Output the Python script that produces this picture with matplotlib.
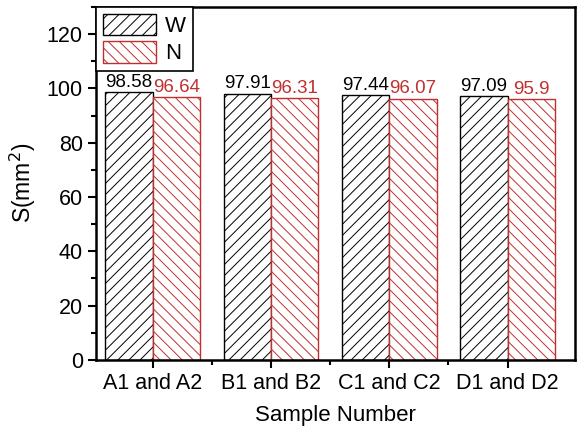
import matplotlib.pyplot as plt
import numpy as np
from matplotlib.ticker import MultipleLocator, FixedLocator

plt.rcParams['font.family'] = ['Liberation Sans', 'DejaVu Sans']
plt.rcParams['hatch.linewidth'] = 0.7

samples = ["A1 and A2", "B1 and B2", "C1 and C2", "D1 and D2"]
w_vals = [98.58, 97.91, 97.44, 97.09]
n_vals = [96.64, 96.31, 96.07, 95.9]
w_labels = ["98.58", "97.91", "97.44", "97.09"]
n_labels = ["96.64", "96.31", "96.07", "95.9"]

red = '#c03030'
fig = plt.figure(figsize=(5.82, 4.33), dpi=100)
ax = fig.add_axes([0.165, 0.169, 0.823, 0.815])

x = np.arange(1, len(samples) + 1)
bw = 0.4
bw_bars = ax.bar(x - bw / 2, w_vals, bw, facecolor='white', edgecolor='black',
                 hatch='///', linewidth=1.0, label='W')
bn_bars = ax.bar(x + bw / 2, n_vals, bw, facecolor='white', edgecolor=red,
                 hatch='\\\\\\', linewidth=1.0, label='N')

# value labels sit just above each bar
for b, t in zip(bw_bars, w_labels):
    ax.text(b.get_x() + b.get_width() / 2, b.get_height() + 0.6, t,
            ha='center', va='bottom', fontsize=13.5, color='black')
for b, t in zip(bn_bars, n_labels):
    ax.text(b.get_x() + b.get_width() / 2, b.get_height() + 0.6, t,
            ha='center', va='bottom', fontsize=13.5, color=red)

ax.set_xlim(0.52, 4.57)
ax.set_ylim(0, 130)
ax.set_xticks(x)
ax.set_xticklabels(samples)
ax.xaxis.set_minor_locator(FixedLocator([1.5, 2.5, 3.5]))
ax.yaxis.set_minor_locator(MultipleLocator(10))
ax.set_yticks(np.arange(0, 121, 20))
ax.tick_params(which='major', direction='out', length=6, width=1.5, labelsize=15.5)
ax.tick_params(which='minor', direction='out', length=3.5, width=1.5)
for sp in ax.spines.values():
    sp.set_linewidth(1.8)

ax.set_xlabel("Sample Number", fontsize=16, labelpad=8)
ax.set_ylabel("S(mm$^2$)", fontsize=16.5, labelpad=6)

leg = ax.legend(loc='upper left', borderaxespad=0, fontsize=16, fancybox=False,
                edgecolor='black', framealpha=1, handlelength=2.4, handleheight=1.1,
                handletextpad=0.4, borderpad=0.3, labelspacing=0.2)
leg.get_frame().set_linewidth(1.2)

fig.savefig("out.png", dpi=100)
